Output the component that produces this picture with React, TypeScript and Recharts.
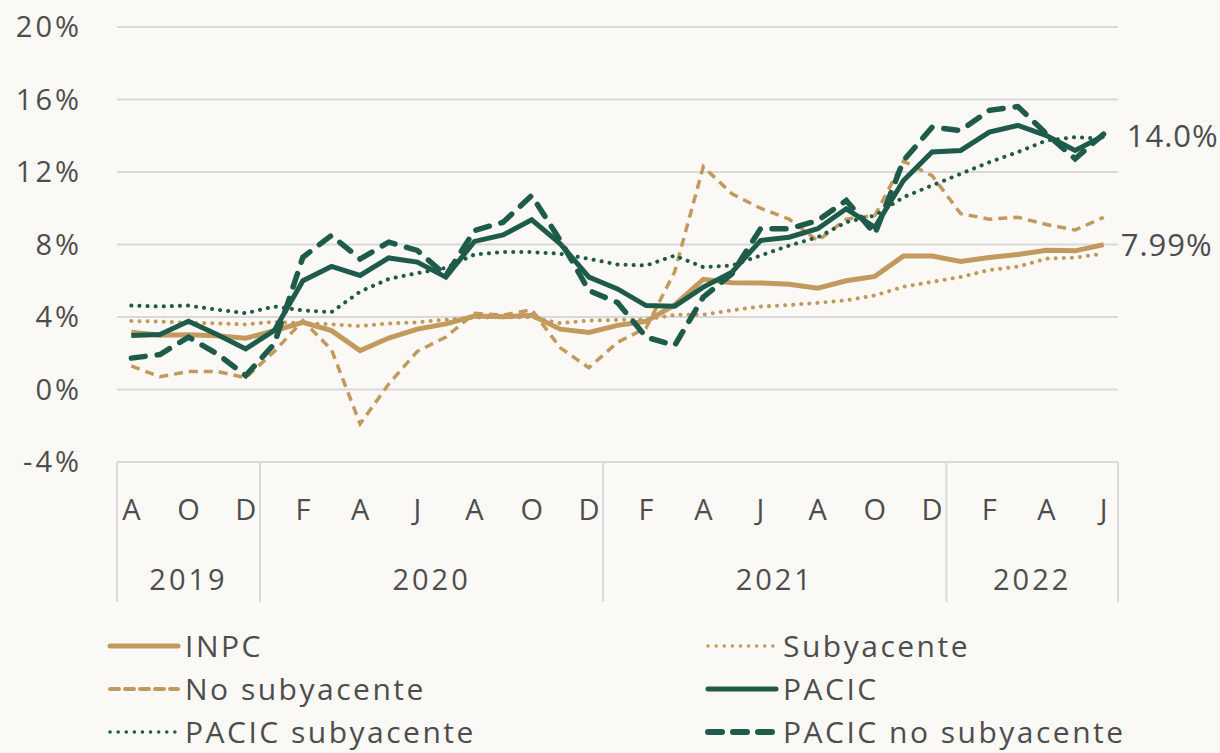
import { LineChart, Line, XAxis, YAxis, CartesianGrid, LabelList } from 'recharts';

const months = ['A', 'S', 'O', 'N', 'D', 'J', 'F', 'M', 'A', 'M', 'J', 'J', 'A', 'S', 'O', 'N', 'D', 'J', 'F', 'M', 'A', 'M', 'J', 'J', 'A', 'S', 'O', 'N', 'D', 'J', 'F', 'M', 'A', 'M', 'J'];
const yearLabels = ['2019', '2020', '2021', '2022'];
const yearStarts = [0, 5, 17, 29];
const yTicks = [-4, 0, 4, 8, 12, 16, 20];

const inpc = [3.16, 3.0, 3.02, 2.97, 2.83, 3.24, 3.7, 3.25, 2.15, 2.84, 3.33, 3.62, 4.05, 4.01, 4.09, 3.33, 3.15, 3.54, 3.76, 4.67, 6.08, 5.89, 5.88, 5.81, 5.59, 6.0, 6.24, 7.37, 7.36, 7.07, 7.28, 7.45, 7.68, 7.65, 7.99];
const subyacente = [3.78, 3.75, 3.68, 3.65, 3.59, 3.73, 3.66, 3.6, 3.5, 3.64, 3.71, 3.85, 3.97, 3.99, 3.98, 3.66, 3.8, 3.84, 3.87, 4.12, 4.13, 4.37, 4.58, 4.66, 4.78, 4.92, 5.19, 5.67, 5.94, 6.21, 6.59, 6.78, 7.22, 7.28, 7.49];
const noSubyacente = [1.3, 0.7, 1.0, 1.0, 0.65, 2.1, 3.8, 2.2, -1.9, 0.3, 2.1, 2.9, 4.2, 4.1, 4.4, 2.3, 1.2, 2.6, 3.4, 6.5, 12.3, 10.8, 10.0, 9.4, 8.2, 9.4, 9.6, 12.6, 11.8, 9.7, 9.4, 9.5, 9.1, 8.8, 9.5];
const pacic = [2.98, 3.03, 3.77, 3.03, 2.24, 3.26, 6.0, 6.79, 6.29, 7.26, 7.03, 6.2, 8.17, 8.53, 9.36, 8.04, 6.2, 5.55, 4.63, 4.6, 5.65, 6.47, 8.22, 8.4, 8.87, 9.97, 8.95, 11.53, 13.1, 13.19, 14.2, 14.57, 14.01, 13.19, 14.0];
const pacicSub = [4.63, 4.58, 4.63, 4.4, 4.21, 4.58, 4.36, 4.27, 5.4, 6.1, 6.42, 6.71, 7.45, 7.58, 7.58, 7.49, 7.21, 6.9, 6.84, 7.39, 6.75, 6.84, 7.39, 7.94, 8.4, 9.23, 9.6, 10.61, 11.26, 11.9, 12.54, 13.1, 13.74, 13.92, 13.83];
const pacicNoSub = [1.73, 1.93, 2.89, 1.97, 0.77, 2.52, 7.3, 8.5, 7.2, 8.13, 7.67, 6.29, 8.77, 9.23, 10.7, 8.22, 5.46, 4.8, 2.89, 2.43, 5.1, 6.38, 8.87, 8.87, 9.32, 10.43, 8.59, 12.63, 14.47, 14.29, 15.4, 15.61, 14.1, 12.73, 14.1];

const data = months.map((m, i) => ({
  mes: m,
  inpc: inpc[i],
  subyacente: subyacente[i],
  noSubyacente: noSubyacente[i],
  pacic: pacic[i],
  pacicSub: pacicSub[i],
  pacicNoSub: pacicNoSub[i],
}));

const TAN = '#c29a5e';
const GREEN = '#1f5b4a';
const TEXT = '#4d4d4d';
const FONT = '"Open Sans", sans-serif';

const PLOT_LEFT = 117;
const PLOT_RIGHT = 1118;
const PLOT_W = PLOT_RIGHT - PLOT_LEFT;
const BAND = PLOT_W / months.length;

function MonthYearTick(props: any) {
  const { x, y } = props;
  const i: number = props.index ?? props.payload?.index ?? 0;
  const out: any[] = [];
  if (i % 2 === 0) {
    out.push(
      <text key="m" x={x} y={y + 58} textAnchor="middle" fontSize={29} fill={TEXT} fontFamily={FONT}>
        {months[i]}
      </text>
    );
  }
  yearStarts.forEach((s, k) => {
    const end = k + 1 < yearStarts.length ? yearStarts[k + 1] : months.length;
    if (s === i) {
      out.push(<line key={'s' + k} x1={x - BAND / 2} x2={x - BAND / 2} y1={y} y2={y + 140} stroke="#d9d9d9" strokeWidth={2} />);
    }
    const center = (s + end - 1) / 2;
    if (Math.floor(center) === i) {
      out.push(
        <text key={'y' + k} x={x + (center - i) * BAND} y={y + 128} textAnchor="middle" fontSize={29} fill={TEXT} fontFamily={FONT} letterSpacing={3}>
          {yearLabels[k]}
        </text>
      );
    }
  });
  if (i === months.length - 1) {
    out.push(<line key="end" x1={x + BAND / 2} x2={x + BAND / 2} y1={y} y2={y + 140} stroke="#d9d9d9" strokeWidth={2} />);
  }
  return <g>{out}</g>;
}

function lastLabel(fmt: (v: number) => string, dx: number) {
  return (props: any) => {
    const { x, y, value, index } = props;
    if (index !== months.length - 1) return null;
    return (
      <text x={x + dx} y={y + 11} fontSize={31} fill={TEXT} fontFamily={FONT} letterSpacing={1}>
        {fmt(value)}
      </text>
    );
  };
}

const legendItems = [
  { name: 'INPC', color: TAN, width: 5, dash: undefined as string | undefined },
  { name: 'Subyacente', color: TAN, width: 3.5, dash: '0.1 8' },
  { name: 'No subyacente', color: TAN, width: 4, dash: '9 6' },
  { name: 'PACIC', color: GREEN, width: 5, dash: undefined },
  { name: 'PACIC subyacente', color: GREEN, width: 3.5, dash: '0.1 8' },
  { name: 'PACIC no subyacente', color: GREEN, width: 6, dash: '14 11' },
];

export default function App() {
  return (
    <div style={{ position: 'absolute', left: 0, top: 0, width: 1220, height: 753, background: '#fbf9f5', fontFamily: FONT }}>
      <LineChart width={1220} height={620} data={data} margin={{ top: 27, right: 1220 - PLOT_RIGHT, left: 0, bottom: 8 }}>
        <CartesianGrid vertical={false} stroke="#d9d9d9" strokeWidth={2} />
        <XAxis
          dataKey="mes"
          interval={0}
          height={150}
          padding={{ left: BAND / 2, right: BAND / 2 }}
          tickLine={false}
          tickSize={0}
          tickMargin={0}
          axisLine={{ stroke: '#d9d9d9', strokeWidth: 2 }}
          tick={<MonthYearTick />}
        />
        <YAxis
          width={PLOT_LEFT}
          domain={[-4, 20]}
          ticks={yTicks}
          axisLine={false}
          tickLine={false}
          tickSize={0}
          tickMargin={35}
          tickFormatter={(v: number) => `${v}%`}
          tick={{ fontSize: 29, fill: TEXT, fontFamily: FONT, letterSpacing: 3 }}
        />
        <Line type="linear" dataKey="noSubyacente" stroke={TAN} strokeWidth={3.5} strokeDasharray="9 6" dot={false} isAnimationActive={false} />
        <Line type="linear" dataKey="subyacente" stroke={TAN} strokeWidth={4} strokeDasharray="0.1 8" strokeLinecap="round" dot={false} isAnimationActive={false} />
        <Line type="linear" dataKey="inpc" stroke={TAN} strokeWidth={5} dot={false} isAnimationActive={false}>
          <LabelList dataKey="inpc" content={lastLabel((v) => `${v.toFixed(2)}%`, 17)} />
        </Line>
        <Line type="linear" dataKey="pacicSub" stroke={GREEN} strokeWidth={4} strokeDasharray="0.1 8" strokeLinecap="round" dot={false} isAnimationActive={false} />
        <Line type="linear" dataKey="pacicNoSub" stroke={GREEN} strokeWidth={5.5} strokeDasharray="14 12" strokeLinecap="round" dot={false} isAnimationActive={false} />
        <Line type="linear" dataKey="pacic" stroke={GREEN} strokeWidth={5} dot={false} isAnimationActive={false}>
          <LabelList dataKey="pacic" content={lastLabel((v) => `${v.toFixed(1)}%`, 23)} />
        </Line>
      </LineChart>
      {legendItems.map((it, k) => {
        const col = k % 2;
        const row = Math.floor(k / 2);
        return (
          <div
            key={it.name}
            style={{
              position: 'absolute',
              left: col === 0 ? 107 : 705,
              top: 631 + row * 43,
              height: 30,
              display: 'flex',
              alignItems: 'center',
              fontSize: 30,
              lineHeight: '30px',
              color: TEXT,
              letterSpacing: 2.5,
              whiteSpace: 'nowrap',
            }}
          >
            <svg width={74} height={12} style={{ marginRight: 4 }}>
              <line x1={3} x2={71} y1={6} y2={6} stroke={it.color} strokeWidth={it.width} strokeDasharray={it.dash} strokeLinecap="round" />
            </svg>
            <span>{it.name}</span>
          </div>
        );
      })}
    </div>
  );
}
